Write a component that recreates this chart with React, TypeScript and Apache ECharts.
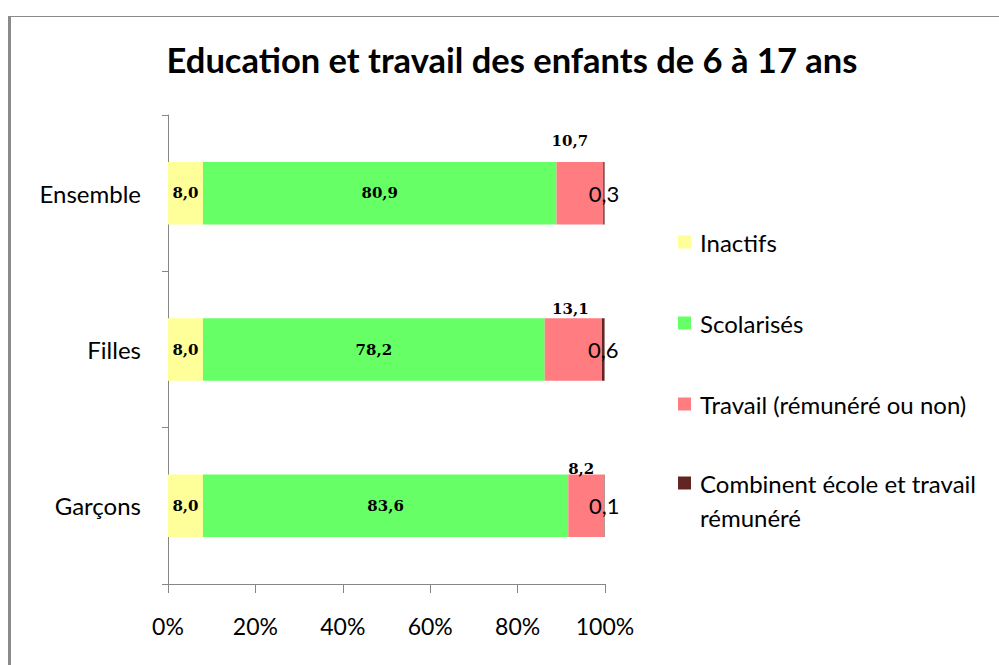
import React, { useEffect, useRef } from 'react';
import * as echarts from 'echarts';

const titleText = 'Education et travail des enfants de 6 à 17 ans';
const categories = ['Ensemble', 'Filles', 'Garçons'];
const seriesNames = [
  'Inactifs',
  'Scolarisés',
  'Travail (rémunéré ou non)',
  'Combinent école et travail rémunéré',
];
const inactifs = [8.0, 8.0, 8.0];
const scolarises = [80.9, 78.2, 83.6];
const travail = [10.7, 13.1, 8.2];
const combinent = [0.3, 0.6, 0.1];
const xMin = 0;
const xMax = 100;
const xInterval = 20;

// layout-only: nudges for the "travail" labels as placed in the reference
const travailLabelOffsets = [
  [-10, -8],
  [-3, 3],
  [-5, 7],
];

const fmt = (v: number) => v.toFixed(1).replace('.', ',');
const SANS = 'Lato';
const SERIF = 'DejaVu Serif';

export default function App() {
  const ref = useRef<HTMLDivElement>(null);
  useEffect(() => {
    if (!ref.current) return;
    const chart = echarts.init(ref.current, undefined, { renderer: 'svg' });
    const serifLabel = {
      show: true,
      position: 'inside',
      formatter: (p: any) => fmt(Number(p.value)),
      fontFamily: SERIF,
      fontWeight: 'bold',
      fontSize: 15,
      color: '#000',
      textBorderWidth: 0,
    };
    chart.setOption({
      animation: false,
      backgroundColor: '#fff',
      title: {
        text: titleText,
        left: 512,
        textAlign: 'center',
        top: 42,
        padding: 0,
        textStyle: { fontFamily: SANS, fontWeight: 'bold', fontSize: 34.5, color: '#000' },
      },
      graphic: [
        { type: 'rect', shape: { x: 8, y: 16, width: 3, height: 700 }, style: { fill: '#8a8a8a' } },
        { type: 'rect', shape: { x: 8, y: 16, width: 1000, height: 1 }, style: { fill: '#8a8a8a' } },
      ],
      legend: [
        {
          orient: 'vertical',
          left: 678,
          top: 228,
          padding: 0,
          itemGap: 53,
          itemWidth: 13,
          itemHeight: 13,
          icon: 'rect',
          data: seriesNames.slice(0, 3),
          textStyle: {
            fontFamily: SANS,
            fontSize: 24,
            lineHeight: 28,
            color: '#000',
            padding: [0, 0, 0, 4],
          },
        },
        {
          orient: 'vertical',
          left: 678,
          top: 432,
          padding: 0,
          itemWidth: 13,
          itemHeight: 13,
          icon: 'rect',
          data: [seriesNames[3]],
          formatter: () => '\nCombinent école et travail\nrémunéré',
          textStyle: {
            fontFamily: SANS,
            fontSize: 24,
            lineHeight: 34,
            color: '#000',
            padding: [0, 0, 0, 4],
          },
        },
      ],
      grid: { left: 168, right: 394, top: 115, bottom: 81, containLabel: false },
      xAxis: {
        type: 'value',
        min: xMin,
        max: xMax,
        interval: xInterval,
        splitLine: { show: false },
        axisLine: { show: true, lineStyle: { color: '#868686', width: 1 } },
        axisTick: { show: true, length: 9, lineStyle: { color: '#868686' } },
        axisLabel: {
          formatter: '{value}%',
          fontFamily: SANS,
          fontSize: 23,
          color: '#000',
          margin: 30,
        },
      },
      yAxis: {
        type: 'category',
        data: categories,
        inverse: true,
        axisLine: { show: true, lineStyle: { color: '#868686', width: 1 } },
        axisTick: { show: true, length: 6, lineStyle: { color: '#868686' } },
        axisLabel: { fontFamily: SANS, fontSize: 24, color: '#000', margin: 27 },
        splitLine: { show: false },
      },
      series: [
        {
          name: seriesNames[0],
          type: 'bar',
          stack: 'total',
          barWidth: '40%',
          data: inactifs,
          itemStyle: { color: '#FFFF99' },
          label: serifLabel,
        },
        {
          name: seriesNames[1],
          type: 'bar',
          stack: 'total',
          data: scolarises,
          itemStyle: { color: '#66FF66' },
          label: serifLabel,
        },
        {
          name: seriesNames[2],
          type: 'bar',
          stack: 'total',
          data: travail.map((v, i) => ({ value: v, label: { offset: travailLabelOffsets[i] } })),
          itemStyle: { color: '#FF7C80' },
          label: { ...serifLabel, position: 'top', distance: 5 },
        },
        {
          name: seriesNames[3],
          type: 'bar',
          stack: 'total',
          data: combinent,
          itemStyle: { color: '#632523' },
          label: {
            show: true,
            position: 'inside',
            formatter: (p: any) => fmt(Number(p.value)),
            fontFamily: SANS,
            fontSize: 22,
            color: '#000',
            textBorderWidth: 0,
          },
        },
      ],
    });
    return () => chart.dispose();
  }, []);
  return (
    <div
      ref={ref}
      style={{ position: 'fixed', left: 0, top: 0, width: 999, height: 665, background: '#fff' }}
    />
  );
}
